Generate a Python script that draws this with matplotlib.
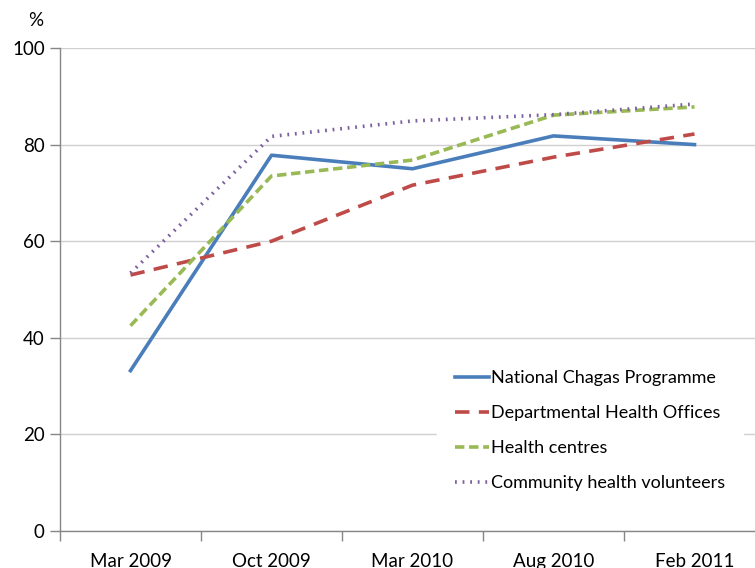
import numpy as np
import matplotlib
matplotlib.use('Agg')
import matplotlib.pyplot as plt
import matplotlib.ticker as ticker

plt.rcParams['font.family'] = ['Lato', 'DejaVu Sans']

fechas = ['Mar 2009', 'Oct 2009', 'Mar 2010', 'Aug 2010', 'Feb 2011']
nacional = [33.2, 77.8, 75.0, 81.8, 80.0]
departamental = [53.0, 60.0, 71.6, 77.4, 82.2]
centros = [42.5, 73.5, 76.8, 86.1, 87.8]
voluntarios = [53.4, 81.7, 84.9, 86.2, 88.4]

series = [
    ('National Chagas Programme', nacional, '#4a7ebb', '-'),
    ('Departmental Health Offices', departamental, '#be4b48', (0, (4.0, 2.6))),
    ('Health centres', centros, '#98b954', (0, (2.6, 1.3))),
    ('Community health volunteers', voluntarios, '#7d60a0', (0, (0.5, 1.6))),
]

fig = plt.figure(figsize=(7.55, 5.68), dpi=100)
ax = fig.add_axes([60 / 755, 1 - 531 / 568, 705 / 755, 483 / 568])

x = np.arange(len(fechas))
for nombre, valores, color, estilo in series:
    ax.plot(x, valores, color=color, linestyle=estilo, linewidth=2.6,
            label=nombre, dash_capstyle='butt')

ax.set_xlim(-0.5, len(fechas) - 0.5)
ax.set_ylim(0, 100)
ax.yaxis.set_major_locator(ticker.MultipleLocator(20))
ax.grid(axis='y', color='#d0d0d0', linewidth=1.0)
ax.set_axisbelow(True)

ax.set_xticks(np.arange(-0.5, len(fechas), 1.0))
ax.set_xticklabels([])
ax.set_xticks(x, minor=True)
ax.set_xticklabels(fechas, minor=True)
ax.tick_params(axis='x', which='major', length=7, color='#868686', width=1)
ax.tick_params(axis='x', which='minor', length=0, labelsize=13.5, pad=16)
ax.tick_params(axis='y', length=7, color='#868686', width=1, labelsize=13.5, pad=4)

for lado in ['top', 'right']:
    ax.spines[lado].set_visible(False)
for lado in ['left', 'bottom']:
    ax.spines[lado].set_color('#868686')
    ax.spines[lado].set_linewidth(1)

fig.text(36 / 755, 1 - 21 / 568, '%', fontsize=13.5, ha='center', va='center')

leg = ax.legend(loc='upper left', bbox_to_anchor=(428 / 755, 1 - 343 / 568),
                bbox_transform=fig.transFigure, frameon=True, fancybox=False,
                edgecolor='white', facecolor='white', framealpha=1,
                fontsize=13, handlelength=1.9, handletextpad=0.1,
                labelspacing=1.05, borderpad=1.0)

fig.savefig('out.png', dpi=100)
